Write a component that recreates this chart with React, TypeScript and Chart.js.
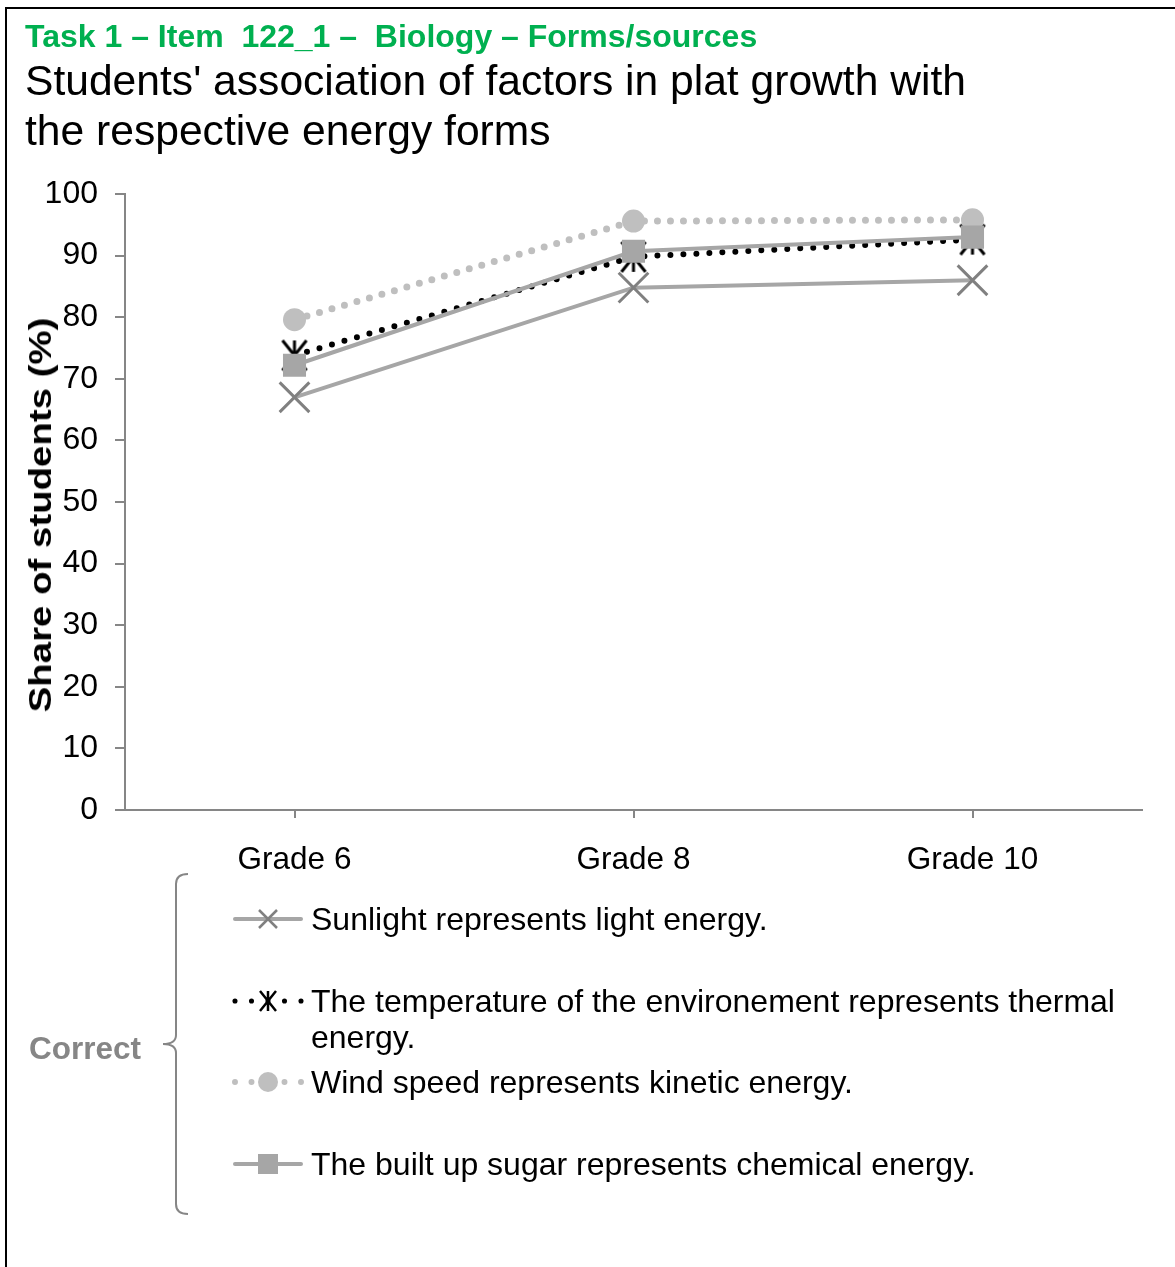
import React, { useEffect, useRef } from "react";
import { Chart, registerables } from "chart.js";

Chart.register(...registerables);

// ---------- data ----------
const categories = ["Grade 6", "Grade 8", "Grade 10"];
const sunlightValues = [67.0, 84.8, 86.0];
const temperatureValues = [73.8, 89.8, 92.6];
const windValues = [79.6, 95.6, 95.8];
const sugarValues = [72.2, 90.7, 93.0];
const seriesLabels = [
  "Sunlight represents light energy.",
  "The temperature of the environement represents thermal energy.",
  "Wind speed represents kinetic energy.",
  "The built up sugar represents chemical energy.",
];
const yMin = 0;
const yMax = 100;
const yStep = 10;

const headerText = "Task 1 – Item  122_1 –  Biology – Forms/sources";
const titleLines = [
  "Students' association of factors in plat growth with",
  "the respective energy forms",
];
const yAxisTitle = "Share of students (%)";
const groupLabel = "Correct";

const FONT = "Arial, 'Liberation Sans', Helvetica, sans-serif";
const AXIS_GRAY = "#868686";

function makeStar(size: number, lw: number, color: string) {
  const c = document.createElement("canvas");
  c.width = size;
  c.height = size;
  const g = c.getContext("2d")!;
  const h = size / 2;
  const r = h - lw;
  g.strokeStyle = color;
  g.lineWidth = lw;
  g.lineCap = "butt";
  g.beginPath();
  const d = r * 0.8;
  g.moveTo(h - d, h - r);
  g.lineTo(h + d, h + r);
  g.moveTo(h + d, h - r);
  g.lineTo(h - d, h + r);
  g.moveTo(h, h - r);
  g.lineTo(h, h + r);
  g.stroke();
  return c;
}

function drawMarker(ctx: CanvasRenderingContext2D, kind: string, x: number, y: number, color: string) {
  ctx.save();
  if (kind === "x") {
    ctx.strokeStyle = color;
    ctx.lineWidth = 2.5;
    const s = 9;
    ctx.beginPath();
    ctx.moveTo(x - s, y - s);
    ctx.lineTo(x + s, y + s);
    ctx.moveTo(x + s, y - s);
    ctx.lineTo(x - s, y + s);
    ctx.stroke();
  } else if (kind === "star") {
    ctx.strokeStyle = color;
    ctx.lineWidth = 2.5;
    const r = 10;
    const d = r * 0.8;
    ctx.beginPath();
    ctx.moveTo(x - d, y - r);
    ctx.lineTo(x + d, y + r);
    ctx.moveTo(x + d, y - r);
    ctx.lineTo(x - d, y + r);
    ctx.moveTo(x, y - r);
    ctx.lineTo(x, y + r);
    ctx.stroke();
  } else if (kind === "circle") {
    ctx.fillStyle = color;
    ctx.beginPath();
    ctx.arc(x, y, 10, 0, Math.PI * 2);
    ctx.fill();
  } else if (kind === "square") {
    ctx.fillStyle = color;
    ctx.fillRect(x - 10, y - 10, 20, 20);
  }
  ctx.restore();
}

const legendPlugin = {
  id: "customLegend",
  afterDraw(chart: any) {
    const ctx: CanvasRenderingContext2D = chart.ctx;
    const rows = [919, 1001, 1082, 1164];
    const kinds = ["x", "star", "circle", "square"];
    const markerColors = ["#808080", "#000000", "#BFBFBF", "#A6A6A6"];
    const lineX0 = 235;
    const lineX1 = 301;
    const markerX = 268;
    const textX = 311;
    ctx.save();
    chart.data.datasets.forEach((ds: any, i: number) => {
      const y = rows[i];
      ctx.save();
      ctx.strokeStyle = ds.borderColor;
      const dotted = ds.borderDash && ds.borderDash.length;
      if (dotted) {
        ctx.lineWidth = ds.borderWidth * 0.85;
        ctx.lineCap = "round";
        ctx.setLineDash([0, (lineX1 - lineX0) / 4]);
        ctx.beginPath();
        ctx.moveTo(lineX0, y);
        ctx.lineTo(lineX1 + 0.5, y);
        ctx.stroke();
      } else {
        ctx.lineWidth = ds.borderWidth;
        ctx.lineCap = "round";
        ctx.beginPath();
        ctx.moveTo(lineX0, y);
        ctx.lineTo(lineX1, y);
        ctx.stroke();
      }
      ctx.restore();
      drawMarker(ctx, kinds[i], markerX, y, markerColors[i]);

      // text with wrapping
      ctx.fillStyle = "#000";
      ctx.font = `32px ${FONT}`;
      ctx.textBaseline = "middle";
      ctx.textAlign = "left";
      const maxW = 840;
      const words = seriesLabels[i].split(" ");
      const lines: string[] = [];
      let cur = "";
      words.forEach((w) => {
        const test = cur ? cur + " " + w : w;
        if (ctx.measureText(test).width > maxW && cur) {
          lines.push(cur);
          cur = w;
        } else cur = test;
      });
      if (cur) lines.push(cur);
      lines.forEach((ln, k) => ctx.fillText(ln, textX, y + 2 + k * 36));
    });

    // brace
    ctx.strokeStyle = AXIS_GRAY;
    ctx.lineWidth = 2;
    ctx.beginPath();
    ctx.moveTo(188, 874);
    ctx.quadraticCurveTo(176, 874, 176, 884);
    ctx.lineTo(176, 1035);
    ctx.quadraticCurveTo(176, 1044, 163, 1044);
    ctx.quadraticCurveTo(176, 1044, 176, 1053);
    ctx.lineTo(176, 1204);
    ctx.quadraticCurveTo(176, 1214, 188, 1214);
    ctx.stroke();

    ctx.fillStyle = AXIS_GRAY;
    ctx.font = `bold 31.5px ${FONT}`;
    ctx.textBaseline = "middle";
    ctx.textAlign = "left";
    ctx.fillText(groupLabel, 29, 1050);
    ctx.restore();
  },
};

export default function App() {
  const ref = useRef<HTMLCanvasElement | null>(null);

  useEffect(() => {
    if (!ref.current) return;
    const star = makeStar(36, 3, "#000");
    const chart = new Chart(ref.current, {
      type: "line",
      data: {
        labels: categories,
        datasets: [
          {
            label: seriesLabels[0],
            data: sunlightValues,
            borderColor: "#A6A6A6",
            borderWidth: 4,
            pointStyle: "crossRot",
            pointRadius: 21,
            pointBorderColor: "#808080",
            pointBorderWidth: 3,
            pointBackgroundColor: "rgba(0,0,0,0)",
            order: 4,
          },
          {
            label: seriesLabels[1],
            data: temperatureValues,
            borderColor: "#000000",
            borderWidth: 6,
            borderDash: [0, 13],
            borderCapStyle: "round",
            pointStyle: star,
            pointRadius: 16,
            order: 3,
          },
          {
            label: seriesLabels[2],
            data: windValues,
            borderColor: "#BFBFBF",
            borderWidth: 7,
            borderDash: [0, 13],
            borderCapStyle: "round",
            pointStyle: "circle",
            pointRadius: 11.5,
            pointBackgroundColor: "#BFBFBF",
            pointBorderWidth: 0,
            order: 2,
          },
          {
            label: seriesLabels[3],
            data: sugarValues,
            borderColor: "#A6A6A6",
            borderWidth: 4,
            pointStyle: "rect",
            pointRadius: 16.3,
            pointBackgroundColor: "#A6A6A6",
            pointBorderWidth: 0,
            order: 1,
          },
        ] as any,
      },
      options: {
        responsive: false,
        animation: false,
        layout: { padding: { left: 0, right: 33, top: 194, bottom: 397 } },
        plugins: {
          legend: { display: false },
          tooltip: { enabled: false },
          title: { display: false },
        },
        scales: {
          x: {
            offset: true,
            grid: {
              display: true,
              drawOnChartArea: false,
              drawTicks: true,
              tickLength: 8,
              color: AXIS_GRAY,
              lineWidth: 2,
            },
            border: { display: true, color: AXIS_GRAY, width: 2 },
            ticks: {
              color: "#000",
              font: { family: FONT, size: 31.5 },
              padding: 23,
              maxRotation: 0,
            },
            afterFit: (s: any) => {
              s.height = 60;
            },
          },
          y: {
            min: yMin,
            max: yMax,
            grid: {
              display: true,
              drawOnChartArea: false,
              drawTicks: true,
              tickLength: 10,
              color: AXIS_GRAY,
              lineWidth: 2,
            },
            border: { display: true, color: AXIS_GRAY, width: 2 },
            ticks: {
              stepSize: yStep,
              color: "#000",
              font: { family: FONT, size: 32 },
              padding: 17,
            },
            afterFit: (s: any) => {
              s.width = 125;
            },
          },
        },
      },
      plugins: [legendPlugin],
    });
    return () => chart.destroy();
  }, []);

  return (
    <div
      style={{
        position: "absolute",
        left: 0,
        top: 0,
        width: 1175,
        height: 1267,
        background: "#fff",
        overflow: "hidden",
        fontFamily: FONT,
      }}
    >
      <div
        style={{
          position: "absolute",
          left: 5,
          top: 7,
          right: -4,
          bottom: -4,
          borderTop: "2px solid #000",
          borderLeft: "2px solid #000",
        }}
      />
      <canvas
        ref={ref}
        width={1175}
        height={1267}
        style={{ position: "absolute", left: 0, top: 0, width: 1175, height: 1267 }}
      />
      <div
        style={{
          position: "absolute",
          left: 25,
          top: 20,
          fontSize: 32,
          lineHeight: "32px",
          fontWeight: "bold",
          color: "#00B050",
          whiteSpace: "pre",
        }}
      >
        {headerText}
      </div>
      <div
        style={{
          position: "absolute",
          left: 25,
          top: 55,
          fontSize: 42.6,
          lineHeight: "50px",
          color: "#000",
          whiteSpace: "pre",
        }}
      >
        {titleLines.map((t, i) => (
          <div key={i}>{t}</div>
        ))}
      </div>
      <div
        style={{
          position: "absolute",
          left: 40,
          top: 515,
          fontSize: 32,
          lineHeight: "32px",
          fontWeight: "bold",
          color: "#000",
          whiteSpace: "pre",
          transform: "translate(-50%, -50%) rotate(-90deg) scaleX(1.2)",
        }}
      >
        {yAxisTitle}
      </div>
    </div>
  );
}
